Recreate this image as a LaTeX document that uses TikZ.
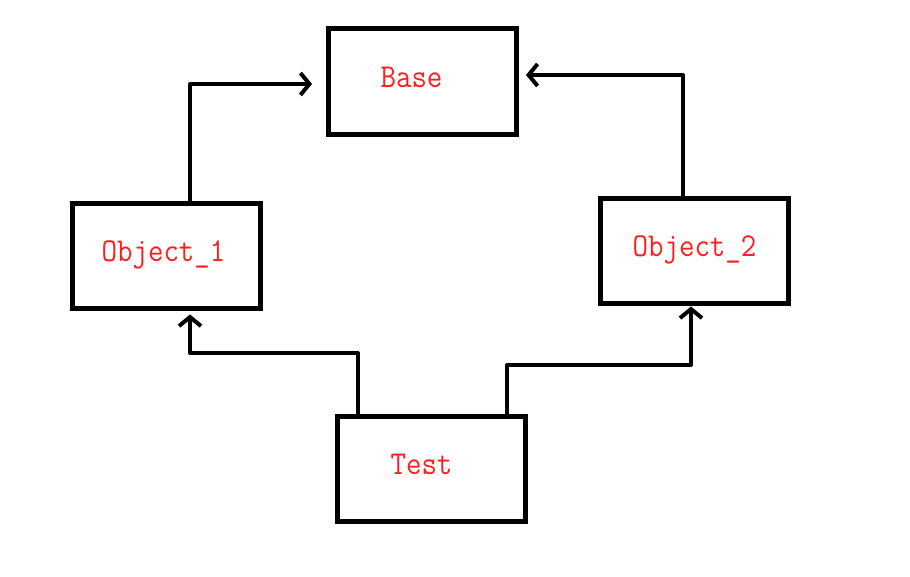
\documentclass[tikz,border=0pt]{standalone}
\usepackage{xcolor}
\usepackage{graphicx}
\usepackage{tikz}
\usetikzlibrary{arrows.meta,positioning}
\definecolor{lblRed}{RGB}{255,30,30}
\newcommand\lbl[2]{\scalebox{0.9}[1]{#2}\hspace*{#1}}

\begin{document}
\begin{tikzpicture}[x=0.02cm, y=-0.02cm,
  box/.style={draw, line width=0.1cm, minimum width=3.76cm, minimum height=2.12cm, inner sep=0pt,
    text height=0.4cm, text depth=0.16cm, text=lblRed, font=\fontsize{19}{22}\selectfont\ttfamily},
  conn/.style={line width=0.08cm, line cap=round, line join=round, -{Straight Barb[length=0.18cm, width=0.44cm, line width=0.08cm]}}]
  \useasboundingbox (0,0) rectangle (910,577);
  \node[box] (base) at (422.5,81.5) {\lbl{0.44cm}{Base}};
  \node[box] (obj1) at (166.5,256) {\lbl{0.12cm}{Object\_1}};
  \node[box] (obj2) at (694.5,251) {\lbl{0cm}{Object\_2}};
  \node[box] (test) at (431.5,469) {\lbl{0.4cm}{Test}};
  \coordinate (j1) at (190,84);
  \coordinate (j2) at (683,75);
  \coordinate (j3) at (190,353);
  \coordinate (j4) at (691,365);
  \draw[conn] (obj1.north -| j1) |- ([xshift=-0.28cm]base.west |- j1);
  \draw[conn] (obj2.north -| j2) |- ([xshift=0.14cm]base.east |- j2);
  \draw[conn] (test.north -| 358,0) |- (j3) -- ([yshift=-0.06cm]obj1.south -| j3);
  \draw[conn] (test.north -| 507,0) |- (j4) -- (obj2.south -| j4);
\end{tikzpicture}
\end{document}
